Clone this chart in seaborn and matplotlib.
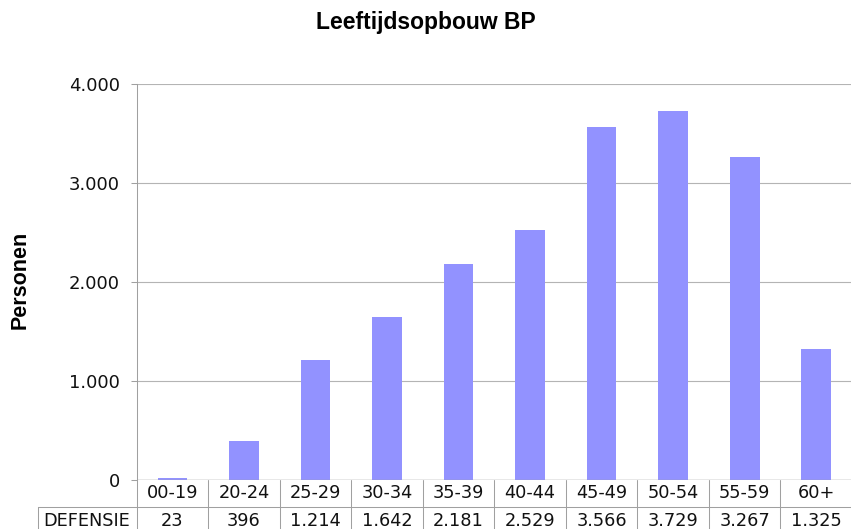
import matplotlib
matplotlib.use("Agg")
import matplotlib.pyplot as plt
import matplotlib.transforms as mtransforms
from matplotlib.lines import Line2D
from matplotlib.ticker import FixedLocator
import seaborn as sns
import pandas as pd

categories = ["00-19", "20-24", "25-29", "30-34", "35-39", "40-44", "45-49", "50-54", "55-59", "60+"]
values = [23, 396, 1214, 1642, 2181, 2529, 3566, 3729, 3267, 1325]
value_labels = ["23", "396", "1.214", "1.642", "2.181", "2.529", "3.566", "3.729", "3.267", "1.325"]
series_name = "DEFENSIE"
title = "Leeftijdsopbouw BP"
ylabel = "Personen"
yticks = [0, 1000, 2000, 3000, 4000]
ytick_labels = ["0", "1.000", "2.000", "3.000", "4.000"]

sns.set_theme(style="white")
plt.rcParams["font.family"] = ["DejaVu Sans"]

W, H = 851, 529
fig = plt.figure(figsize=(W / 100, H / 100), dpi=100)

# axes in pixel coords
left, right, top, bottom = 136.7, 852.0, 84.0, 480.0
ax = fig.add_axes([left / W, 1 - bottom / H, (right - left) / W, (bottom - top) / H])

df = pd.DataFrame({"cat": categories, "val": values})
sns.barplot(data=df, x="cat", y="val", color="#9292FF", saturation=1, width=0.415, ax=ax,
            edgecolor="none")

ax.set_xlim(-0.5, len(categories) - 0.5)
ax.set_ylim(0, 4000)
ax.yaxis.set_major_locator(FixedLocator(yticks))
ax.set_yticklabels(ytick_labels)
ax.set_xticks([])
ax.set_xlabel("")
ax.set_ylabel("")
ax.tick_params(axis="y", which="major", left=True, length=4.3, width=0.75, color="#a0a0a0",
               labelsize=13, pad=7.9, labelcolor="#111111")
ax.grid(axis="y", color="#b4b4b4", linewidth=0.8)
ax.set_axisbelow(True)
for s in ["top", "right", "bottom"]:
    ax.spines[s].set_visible(False)
ax.spines["left"].set_color("#a0a0a0")
ax.spines["left"].set_linewidth(0.75)
ax.axhline(0, color="#a0a0a0", linewidth=1.0, zorder=3)

fig.text(426 / W, 1 - 22 / H, title, ha="center", va="center", fontsize=16.5,
         fontweight="bold", family="Liberation Sans", color="black")
fig.text(20 / W, 1 - 280 / H, ylabel, ha="center", va="center", rotation=90, fontsize=15.5,
         fontweight="bold", family="Liberation Sans", color="black")

# data table below the axes
trans = mtransforms.blended_transform_factory(ax.transData, fig.transFigure)
line_color = "#a0a0a0"
row_sep = 1 - 506.7 / H
cat_y = 1 - 493.5 / H
val_y = 1 - 520.5 / H
for i in range(len(categories) + 1):
    fig.add_artist(Line2D([i - 0.5, i - 0.5], [1 - bottom / H, 0], transform=trans,
                          color=line_color, linewidth=0.75, clip_on=False))
fig.add_artist(Line2D([38 / W, right / W], [row_sep, row_sep], transform=fig.transFigure,
                      color=line_color, linewidth=0.75))
fig.add_artist(Line2D([38 / W, 38 / W], [row_sep, 0], transform=fig.transFigure,
                      color=line_color, linewidth=0.75))
for i, (c, v) in enumerate(zip(categories, value_labels)):
    fig.text(i, cat_y, c, transform=trans, ha="center", va="center", fontsize=12.8,
             color="#111111")
    fig.text(i, val_y, v, transform=trans, ha="center", va="center", fontsize=12.8,
             color="#111111")
fig.text(87 / W, val_y, series_name, ha="center", va="center", fontsize=12.8, color="#111111")

fig.savefig("out.png", dpi=100)
